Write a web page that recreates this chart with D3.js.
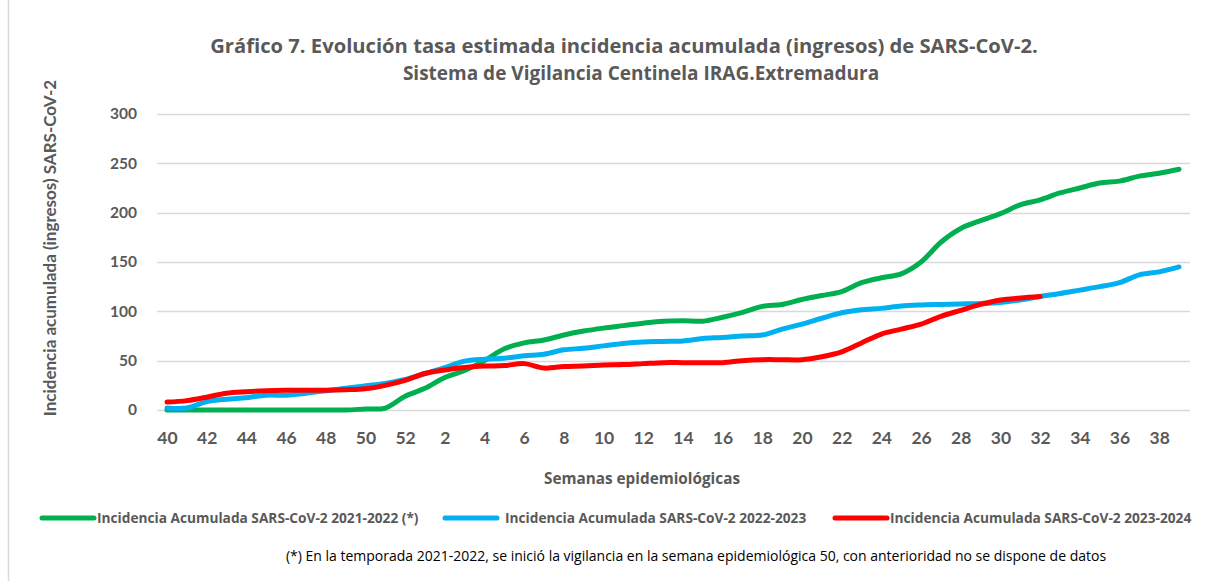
<!DOCTYPE html>
<html>
<head>
<meta charset="utf-8">
<script src="https://cdn.jsdelivr.net/npm/d3@7"></script>
<style>
  body { margin: 0; background: #fff; }
  svg { display: block; font-family: "Open Sans", Lato, sans-serif; }
</style>
</head>
<body>
<script>
// Semanas epidemiológicas (40-52, luego 1-39)
const weeks = [40, 41, 42, 43, 44, 45, 46, 47, 48, 49, 50, 51, 52,
  1, 2, 3, 4, 5, 6, 7, 8, 9, 10, 11, 12, 13, 14, 15, 16, 17, 18, 19, 20,
  21, 22, 23, 24, 25, 26, 27, 28, 29, 30, 31, 32, 33, 34, 35, 36, 37, 38, 39];

const season2122 = [0, 0, 0, 0, 0, 0, 0, 0, 0, 0, 1, 2, 14,
  22, 33, 40, 50, 62, 68, 71, 76, 80, 83, 85.5, 88, 90, 90.5, 90, 94, 99, 105, 107, 112,
  116, 120, 129, 134, 138, 150, 170, 184, 192, 199, 208, 213, 220, 225, 230, 232, 237, 240, 244];

const season2223 = [2, 2, 8.5, 11, 12.5, 15, 15, 17, 19.5, 22, 24.5, 27, 31,
  37, 43, 49.5, 51.5, 52.5, 55, 56.5, 61, 62.5, 65, 67.5, 69, 69.5, 70, 72.5, 73.5, 75, 76, 82, 87,
  93, 98.5, 101.5, 103, 105.5, 106.5, 107, 107.5, 108, 109, 111.5, 115, 118, 121.5, 125, 129, 137, 140, 145];

const season2324 = [8, 9.5, 13, 17, 18.5, 19.5, 20, 20, 20, 20.5, 21.5, 25, 30,
  37, 40.5, 43, 44.5, 45, 47, 42.5, 44, 44.5, 45.5, 46, 47, 48, 48, 48, 48, 50, 51, 51, 51,
  54, 59, 68, 77, 82, 87, 95, 101, 107, 111.5, 113.5, 115];

const yTicks = [0, 50, 100, 150, 200, 250, 300];

const seriesNames = [
  "Incidencia Acumulada SARS-CoV-2 2021-2022 (*)",
  "Incidencia Acumulada SARS-CoV-2 2022-2023",
  "Incidencia Acumulada SARS-CoV-2 2023-2024"
];
const colors = ["#00B050", "#00B0F0", "#FF0000"];

const width = 1224, height = 581;
const textColor = "#595959";

const svg = d3.select("body").append("svg")
  .attr("width", width)
  .attr("height", height);

// borde del gráfico
svg.append("line")
  .attr("x1", 8.5).attr("x2", 8.5).attr("y1", 0).attr("y2", height)
  .attr("stroke", "#d9d9d9").attr("stroke-width", 1.5);

// titulo
const title = svg.append("text")
  .attr("text-anchor", "middle")
  .attr("fill", textColor).attr("font-weight", "bold").attr("font-size", 20.2);
title.append("tspan").attr("x", 624).attr("y", 53)
  .text("Gráfico 7. Evolución tasa estimada incidencia acumulada (ingresos) de SARS-CoV-2.");
title.append("tspan").attr("x", 641).attr("y", 80).attr("font-size", 19)
  .text("Sistema de Vigilancia Centinela IRAG.Extremadura");

// escalas
const x = d3.scalePoint().domain(weeks).range([167, 1179]);
const y = d3.scaleLinear().domain([0, 300]).range([410, 114]);

// rejilla
svg.append("g")
  .selectAll("line")
  .data(yTicks)
  .enter()
  .append("line")
  .attr("x1", 157).attr("x2", 1190)
  .attr("y1", (d) => Math.round(y(d)) + 0.5)
  .attr("y2", (d) => Math.round(y(d)) + 0.5)
  .attr("stroke", "#d9d9d9").attr("stroke-width", 1.5);

// eje Y
const yAxis = svg.append("g")
  .attr("transform", "translate(157,0)")
  .call(d3.axisLeft(y).tickValues(yTicks).tickSize(0).tickPadding(20));
yAxis.select(".domain").remove();
yAxis.selectAll("text")
  .attr("fill", textColor).attr("font-weight", "bold").attr("font-size", 15.5)
  .attr("font-family", "Lato, sans-serif");

// eje X
const xAxis = svg.append("g")
  .attr("transform", "translate(0,410)")
  .call(d3.axisBottom(x)
    .tickValues(weeks.filter((d, i) => i % 2 === 0))
    .tickSize(0).tickPadding(22));
xAxis.select(".domain").remove();
xAxis.selectAll("text")
  .attr("fill", textColor).attr("font-weight", "bold").attr("font-size", 17.5)
  .attr("font-family", "Lato, sans-serif");

// titulos de ejes
svg.append("text")
  .attr("transform", "translate(56,248) rotate(-90)")
  .attr("text-anchor", "middle")
  .attr("fill", textColor).attr("font-weight", "bold").attr("font-size", 17)
  .attr("font-family", "Lato, sans-serif")
  .text("Incidencia acumulada (ingresos) SARS-CoV-2");

svg.append("text")
  .attr("x", 642).attr("y", 484).attr("text-anchor", "middle")
  .attr("fill", textColor).attr("font-weight", "bold").attr("font-size", 15.3)
  .text("Semanas epidemiológicas");

// lineas
const line = d3.line()
  .defined((d) => d != null)
  .x((d, i) => x(weeks[i]))
  .y((d) => y(d))
  .curve(d3.curveCatmullRom.alpha(0.5));

[season2122, season2223, season2324].forEach((data, k) => {
  svg.append("path")
    .datum(data)
    .attr("fill", "none")
    .attr("stroke", colors[k])
    .attr("stroke-width", 5)
    .attr("stroke-linecap", "round")
    .attr("stroke-linejoin", "round")
    .attr("d", line);
});

// leyenda
const legendLineX = [42, 445, 835];
const legendTextX = [97, 505, 890];
const legend = svg.append("g");
seriesNames.forEach((name, k) => {
  legend.append("line")
    .attr("x1", legendLineX[k]).attr("x2", legendLineX[k] + 52)
    .attr("y1", 518).attr("y2", 518)
    .attr("stroke", colors[k]).attr("stroke-width", 5).attr("stroke-linecap", "round");
  legend.append("text")
    .attr("x", legendTextX[k]).attr("y", 523)
    .attr("fill", textColor).attr("font-weight", "bold").attr("font-size", 13.7)
    .text(name);
});

// nota
svg.append("text")
  .attr("x", 696).attr("y", 561).attr("text-anchor", "middle")
  .attr("fill", "#000").attr("font-size", 14)
  .text("(*) En la temporada 2021-2022, se inició la vigilancia en la semana epidemiológica 50, con anterioridad no se dispone de datos");
</script>
</body>
</html>
